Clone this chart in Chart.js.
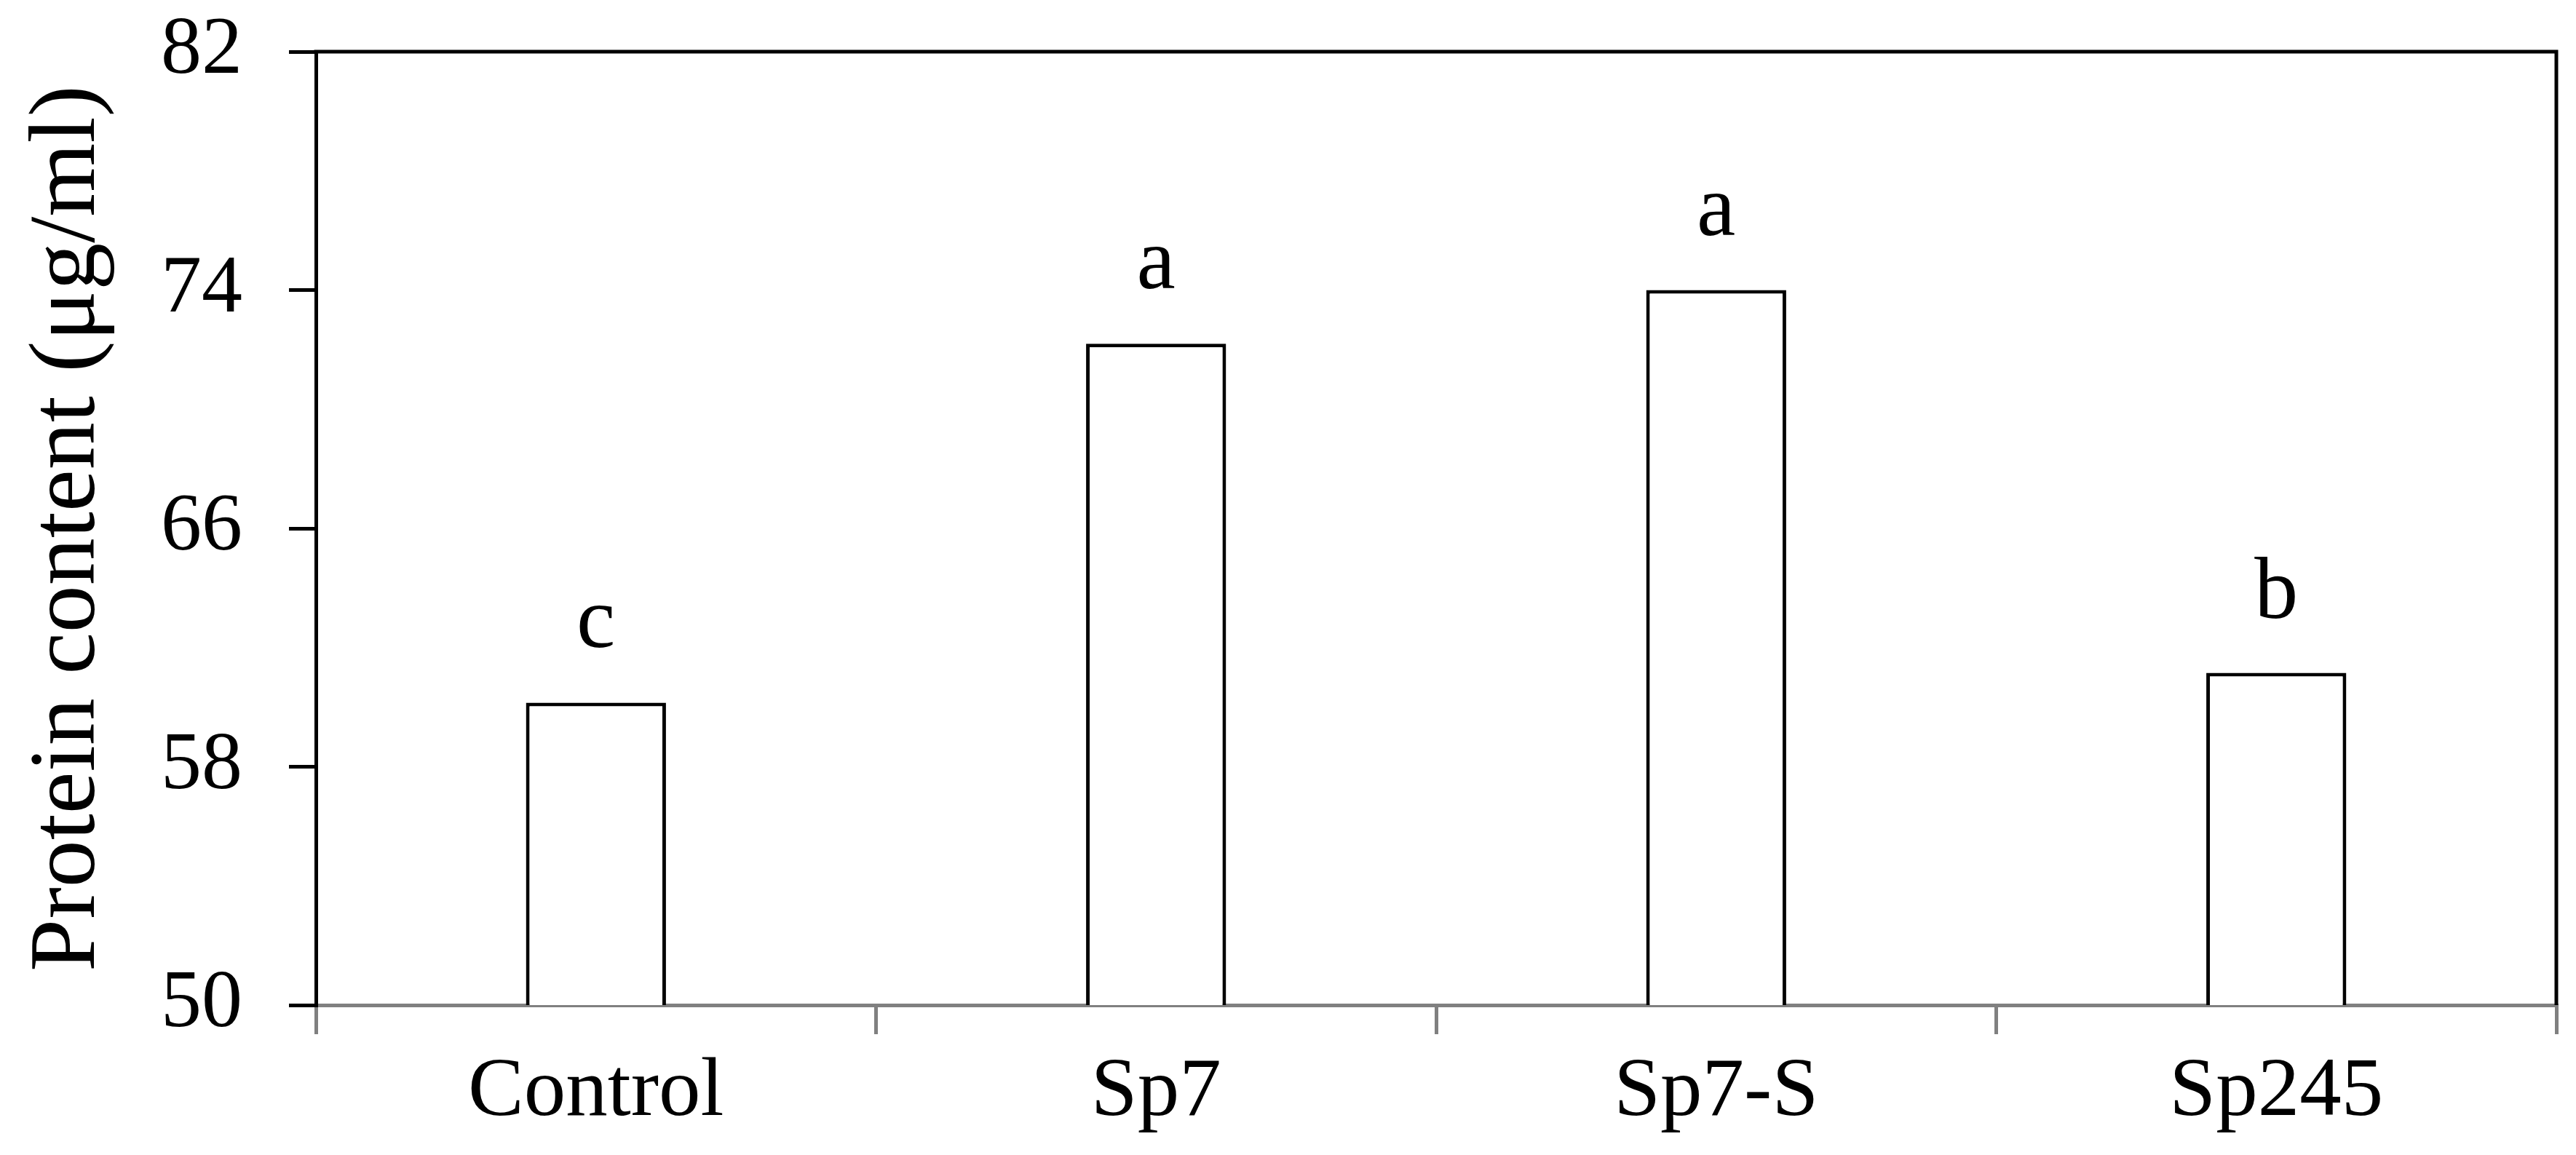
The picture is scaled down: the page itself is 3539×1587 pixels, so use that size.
<!DOCTYPE html>
<html>
<head>
<meta charset="utf-8">
<script src="https://cdn.jsdelivr.net/npm/chart.js@4.4.1/dist/chart.umd.min.js"></script>
<style>
  html, body { margin: 0; padding: 0; background: #ffffff; }
  #wrap { width: 3539px; height: 1587px; }
</style>
</head>
<body>
<div id="wrap"><canvas id="c" width="3539" height="1587"></canvas></div>
<script>
// ---- data ----
const categories = ["Control", "Sp7", "Sp7-S", "Sp245"];
const proteinValues = [60.15, 72.2, 74.0, 61.15];
const significance = ["c", "a", "a", "b"];
const yTicks = [50, 58, 66, 74, 82];
const yTitle = "Protein content (\u03bcg/ml)";

const FONT = "'Liberation Serif', 'Times New Roman', serif";

const framePlugin = {
  id: 'frame',
  afterDraw(chart) {
    const { ctx, chartArea: a } = chart;
    ctx.save();
    ctx.strokeStyle = '#000';
    ctx.lineWidth = 5;
    ctx.beginPath();
    ctx.moveTo(a.left - 2.5, a.top);
    ctx.lineTo(a.right, a.top);
    ctx.lineTo(a.right, a.bottom);
    ctx.stroke();
    ctx.restore();
  }
};

const letterPlugin = {
  id: 'letters',
  afterDatasetsDraw(chart) {
    const { ctx } = chart;
    const meta = chart.getDatasetMeta(0);
    ctx.save();
    ctx.fillStyle = '#000';
    ctx.font = "120px " + FONT;
    ctx.textAlign = 'center';
    ctx.textBaseline = 'alphabetic';
    meta.data.forEach((bar, i) => {
      ctx.fillText(significance[i], bar.x, bar.y - 76);
    });
    ctx.restore();
  }
};

new Chart(document.getElementById('c'), {
  type: 'bar',
  data: {
    labels: categories,
    datasets: [{
      data: proteinValues,
      backgroundColor: '#ffffff',
      borderColor: '#000000',
      borderWidth: 5,
      borderSkipped: 'bottom',
      categoryPercentage: 1.0,
      barPercentage: 0.25
    }]
  },
  options: {
    responsive: false,
    animation: false,
    devicePixelRatio: 1,
    layout: { padding: { left: 0, top: 71, right: 27, bottom: 0 } },
    plugins: { legend: { display: false }, tooltip: { enabled: false } },
    scales: {
      x: {
        grid: { offset: true, drawOnChartArea: false, tickLength: 40, color: '#808080', lineWidth: 5 },
        border: { color: '#808080', width: 5 },
        ticks: { color: '#000', font: { family: FONT, size: 115 }, padding: 12, maxRotation: 0 },
        afterFit(scale) { scale.height = 206; scale.paddingLeft = 0; scale.paddingRight = 0; }
      },
      y: {
        min: 50, max: 82,
        afterBuildTicks(scale) { scale.ticks = yTicks.map(v => ({ value: v })); },
        grid: { drawOnChartArea: false, tickLength: 37, color: '#000', lineWidth: 5 },
        border: { color: '#000', width: 5 },
        ticks: { color: '#000', font: { family: FONT, size: 112 }, padding: 64 },
        title: { display: true, text: yTitle, color: '#000', font: { family: FONT, size: 130 }, padding: { top: 17, bottom: 0 } },
        afterFit(scale) { scale.width = 434; scale.paddingTop = 0; scale.paddingBottom = 0; }
      }
    }
  },
  plugins: [framePlugin, letterPlugin]
});
</script>
</body>
</html>
